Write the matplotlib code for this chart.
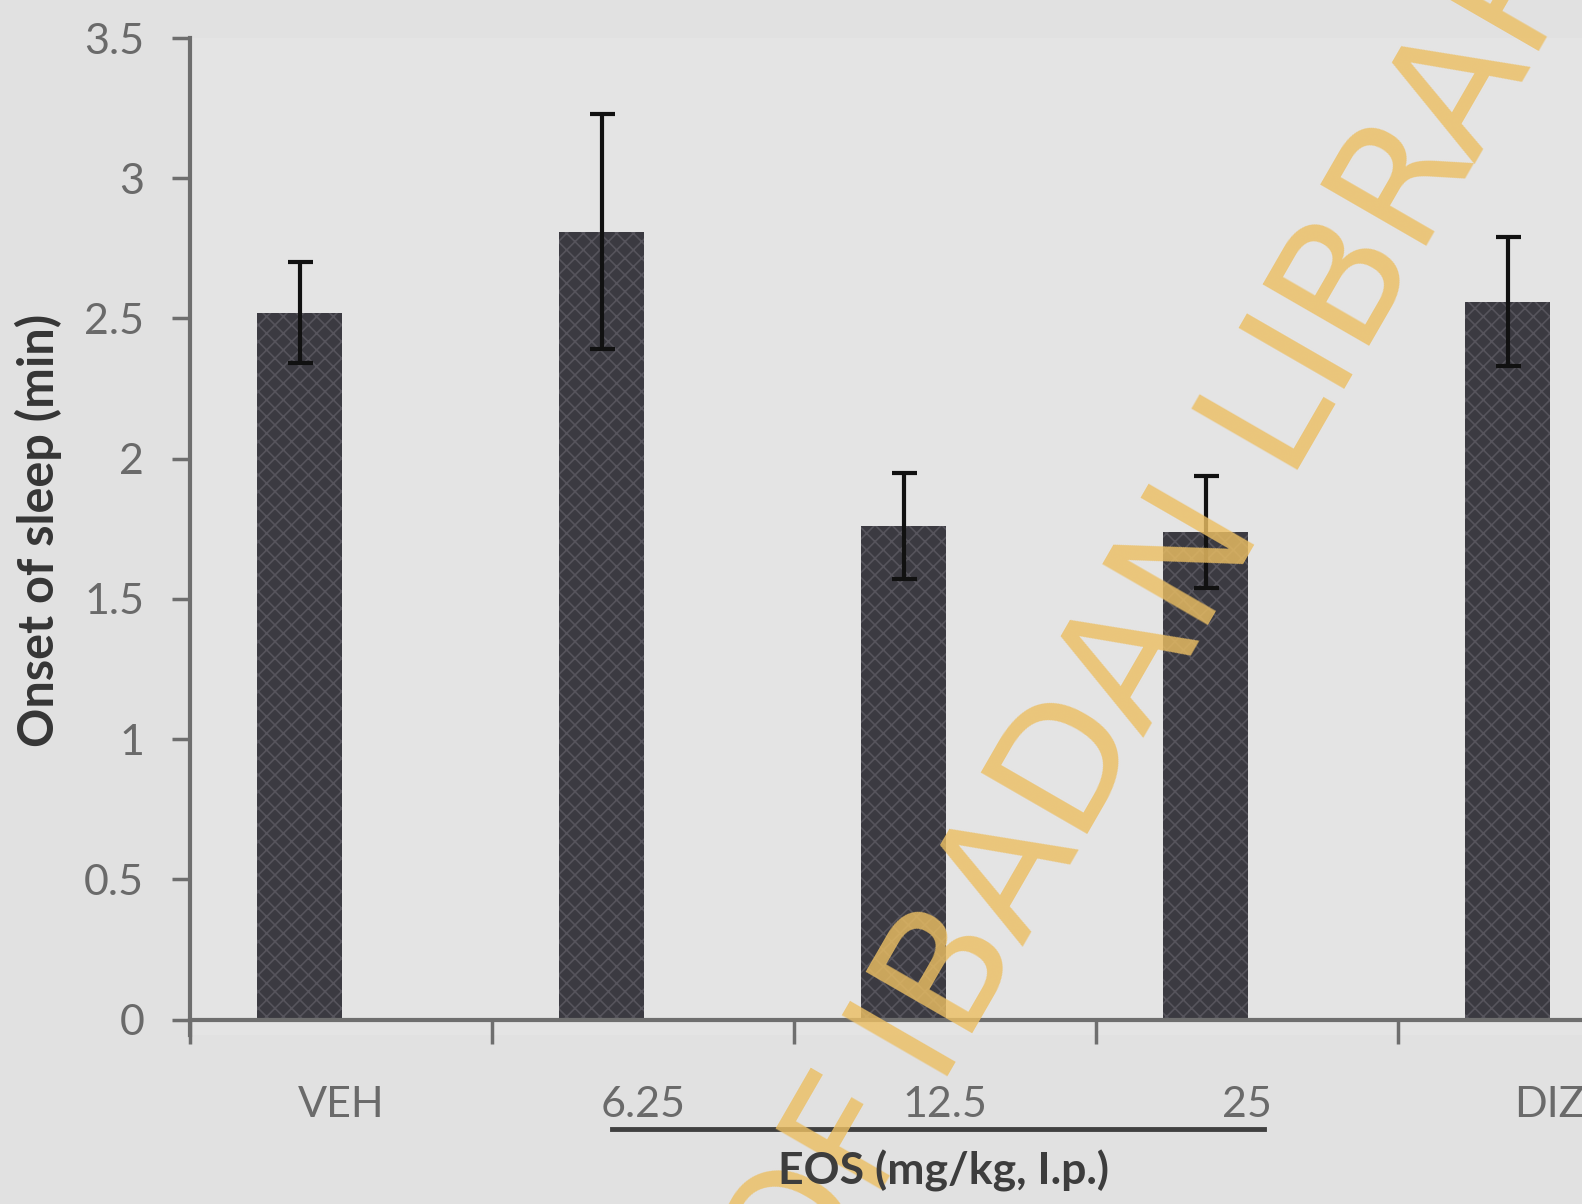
import numpy as np
import matplotlib.pyplot as plt

# values
groups = ["VEH", "6.25", "12.5", "25", "DIZ"]
onset = [2.52, 2.81, 1.76, 1.74, 2.56]
sem = [0.18, 0.42, 0.19, 0.20, 0.23]
yticks = [0, 0.5, 1, 1.5, 2, 2.5, 3, 3.5]
ytick_labels = ["0", "0.5", "1", "1.5", "2", "2.5", "3", "3.5"]

W, H = 1582, 1204
fig = plt.figure(figsize=(W / 100, H / 100), dpi=100)
fig.patch.set_facecolor("#e1e1e1")
plt.rcParams["hatch.linewidth"] = 1.2

# axes box in pixels: y-axis at x=190, 3.5 at y=38, 0 at y=1020
ax = fig.add_axes([190 / W, 1 - 1035 / H, 1 - 190 / W, (1035 - 38) / H])
ax.set_facecolor("#e4e4e4")

x = np.arange(len(groups))
ax.bar(x - 0.137, onset, width=0.281, color="#3b3a41", edgecolor="#56545c",
       hatch="xx", linewidth=0, zorder=2)
ax.errorbar(x - 0.137, onset, yerr=sem, fmt="none", ecolor="#111111",
            elinewidth=3, capsize=9, capthick=3, zorder=3)

ax.set_xlim(-0.5, (W - 190) / 302 - 0.5)
ax.set_ylim(-0.055, 3.5)

for s in ["top", "right"]:
    ax.spines[s].set_visible(False)
ax.spines["bottom"].set_position(("data", 0))
for s in ["left", "bottom"]:
    ax.spines[s].set_color("#6e6e6e")
    ax.spines[s].set_linewidth(3)

ax.set_yticks(yticks)
ax.set_yticklabels(ytick_labels)
ax.tick_params(axis="y", length=13, width=2.5, color="#6e6e6e", pad=20,
               labelsize=31, labelcolor="#6a6a6a")
for t in ax.get_yticklabels():
    t.set_family("Lato")

ax.set_xticks(x)
ax.set_xticklabels(groups)
ax.set_xticks(x - 0.5, minor=True)
ax.tick_params(axis="x", which="major", length=0, pad=48, labelsize=31,
               labelcolor="#6a6a6a")
ax.tick_params(axis="x", which="minor", length=17, width=2.5, color="#6e6e6e")
for t in ax.get_xticklabels():
    t.set_family("Lato")

fig.text(38 / W, 1 - 530 / H, "Onset of sleep (min)", rotation=90,
         ha="center", va="center", fontsize=35, fontweight="bold",
         color="#353535", family="Lato")

# bracket under the EOS doses
fig.add_artist(plt.Line2D([612 / W, 1264 / W], [1 - 1129 / H, 1 - 1129 / H],
                          color="#404040", linewidth=3.5))
fig.text(944 / W, 1 - 1171 / H, "EOS (mg/kg, I.p.)", ha="center",
         va="center", fontsize=32, fontweight="bold", color="#3d3d3d",
         family="Lato", zorder=12)

# watermark
wm = dict(rotation=60, rotation_mode="anchor", va="baseline", fontsize=121,
          color="#ecbf63", alpha=0.82, family="DejaVu Sans", zorder=10)
fig.text(922 / W, 1 - 1120 / H, "UNIVERSITY OF", ha="right", **wm)
fig.text(940 / W, 1 - 1090 / H, "IBADAN LIBRARY", ha="left", **wm)

fig.savefig("out.png", dpi=100, facecolor=fig.get_facecolor())
